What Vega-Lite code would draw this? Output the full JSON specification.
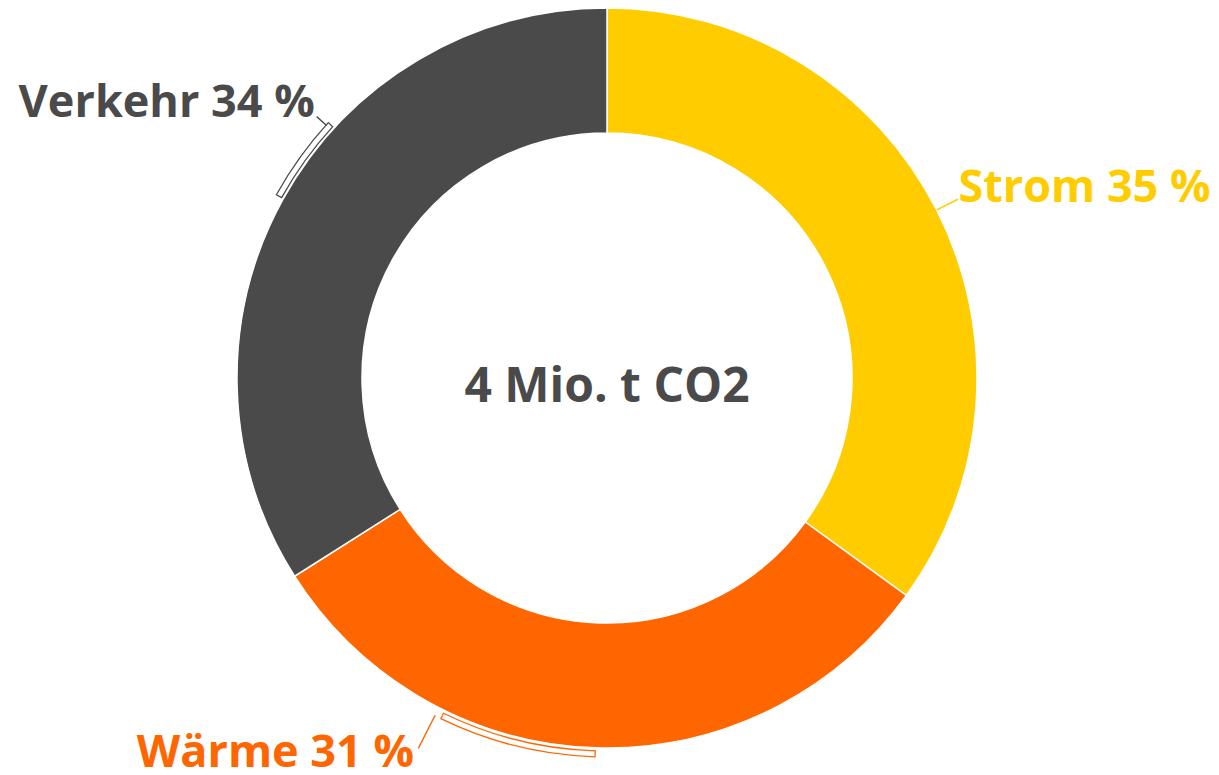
{
  "$schema": "https://vega.github.io/schema/vega-lite/v6.json",
  "width": 1214,
  "height": 756,
  "autosize": {"type": "none"},
  "padding": {"left": 0, "top": 0, "right": 5, "bottom": 19},
  "background": "white",
  "config": {"view": {"stroke": null}},
  "layer": [
    {
      "data": {
        "values": [
          {"sector": "Strom", "value": 35, "rank": 1, "label": "Strom 35 %"},
          {"sector": "Wärme", "value": 31, "rank": 2, "label": "Wärme 31 %"},
          {"sector": "Verkehr", "value": 34, "rank": 3, "label": "Verkehr 34 %"}
        ]
      },
      "transform": [
        {"stack": "value", "groupby": [], "sort": [{"field": "rank", "order": "ascending"}], "as": ["cumStart", "cumEnd"]}
      ],
      "encoding": {
        "theta": {"field": "cumStart", "type": "quantitative", "stack": null, "scale": {"domain": [0, 100]}},
        "color": {
          "field": "sector",
          "type": "nominal",
          "scale": {"domain": ["Strom", "Wärme", "Verkehr"], "range": ["#FFCC00", "#FF6600", "#4A4A4A"]},
          "legend": null
        }
      },
      "layer": [
        {
          "mark": {"type": "arc", "radius": 370, "radius2": 245, "stroke": "white", "strokeWidth": 1.5},
          "encoding": {"theta2": {"field": "cumEnd"}}
        },
        {
          "transform": [{"filter": "datum.sector === 'Verkehr'"}],
          "mark": {"type": "arc", "filled": false, "radius": 378, "radius2": 372, "strokeWidth": 1.3, "thetaOffset": 1.0716, "theta2Offset": -0.829},
          "encoding": {"theta2": {"field": "cumEnd"}}
        },
        {
          "transform": [{"filter": "datum.sector === 'Wärme'"}],
          "mark": {"type": "arc", "filled": false, "radius": 379, "radius2": 373, "strokeWidth": 1.3, "thetaOffset": 0.974, "theta2Offset": -0.5515},
          "encoding": {"theta2": {"field": "cumEnd"}}
        },
        {
          "transform": [{"filter": "datum.sector === 'Strom'"}],
          "mark": {"type": "arc", "filled": false, "radius": 393, "radius2": 371, "strokeWidth": 1.5, "thetaOffset": 1.0996, "theta2Offset": -1.0996},
          "encoding": {"theta2": {"field": "cumEnd"}}
        },
        {
          "transform": [{"filter": "datum.sector === 'Verkehr'"}],
          "mark": {"type": "arc", "filled": false, "radius": 390, "radius2": 378, "strokeWidth": 1.3, "thetaOffset": 1.2985, "theta2Offset": -0.8378},
          "encoding": {"theta2": {"field": "cumEnd"}}
        },
        {
          "transform": [{"filter": "datum.sector === 'Wärme'"}],
          "mark": {"type": "arc", "filled": false, "radius": 415, "radius2": 379, "strokeWidth": 1.3, "thetaOffset": 1.4137, "theta2Offset": -0.534},
          "encoding": {"theta2": {"field": "cumEnd"}}
        },
        {
          "transform": [{"filter": "datum.sector === 'Strom'"}],
          "mark": {"type": "text", "radius": 393, "thetaOffset": 1.1065, "align": "left", "baseline": "alphabetic", "font": "Open Sans", "fontWeight": "bold", "fontSize": 45},
          "encoding": {"text": {"field": "label"}}
        },
        {
          "transform": [{"filter": "datum.sector === 'Wärme'"}],
          "mark": {"type": "text", "radius": 434, "thetaOffset": 1.4032, "align": "right", "baseline": "alphabetic", "font": "Open Sans", "fontWeight": "bold", "fontSize": 45},
          "encoding": {"text": {"field": "label"}}
        },
        {
          "transform": [{"filter": "datum.sector === 'Verkehr'"}],
          "mark": {"type": "text", "radius": 392, "thetaOffset": 1.2950, "align": "right", "baseline": "alphabetic", "font": "Open Sans", "fontWeight": "bold", "fontSize": 45},
          "encoding": {"text": {"field": "label"}}
        }
      ]
    },
    {
      "data": {"values": [{"t": "4 Mio. t CO2"}]},
      "mark": {"type": "text", "font": "Open Sans", "fontWeight": "bold", "fontSize": 48, "baseline": "alphabetic", "dy": 24, "color": "#4A4A4A"},
      "encoding": {"text": {"field": "t"}}
    }
  ]
}
